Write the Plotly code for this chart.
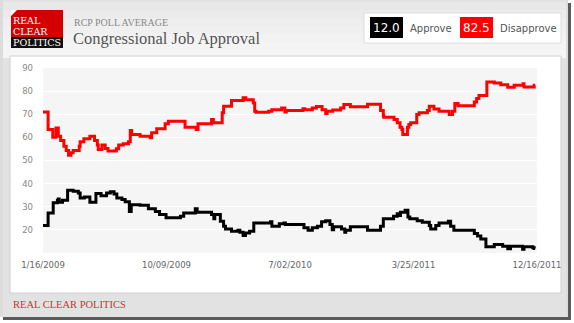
import plotly.graph_objects as go

# RCP average, Congressional job approval (poll date, percent)
disapprove_dates = [
    "2009-01-16", "2009-01-27", "2009-02-06", "2009-02-13", "2009-02-18", "2009-02-23",
    "2009-03-02", "2009-03-07", "2009-03-12", "2009-03-17", "2009-03-22", "2009-04-04",
    "2009-04-06", "2009-04-14", "2009-04-27", "2009-05-07", "2009-05-13", "2009-05-15",
    "2009-05-23", "2009-05-30", "2009-06-05", "2009-06-23", "2009-06-28", "2009-07-08",
    "2009-07-19", "2009-07-23", "2009-07-26", "2009-08-13", "2009-09-04", "2009-09-07",
    "2009-09-18", "2009-10-06", "2009-10-13", "2009-11-18", "2009-12-12", "2009-12-16",
    "2010-01-14", "2010-01-18", "2010-02-06", "2010-02-09", "2010-02-26", "2010-03-23",
    "2010-03-29", "2010-04-14", "2010-04-17", "2010-04-20", "2010-05-17", "2010-05-24",
    "2010-06-14", "2010-06-21", "2010-06-24", "2010-07-30", "2010-08-03", "2010-08-19",
    "2010-08-28", "2010-09-09", "2010-09-17", "2010-09-20", "2010-10-02", "2010-10-19",
    "2010-10-26", "2010-11-09", "2010-12-16", "2011-01-13", "2011-01-19", "2011-01-20",
    "2011-02-11", "2011-02-18", "2011-02-24", "2011-02-28", "2011-03-02", "2011-03-12",
    "2011-03-15", "2011-03-19", "2011-04-01", "2011-04-06", "2011-04-24", "2011-04-28",
    "2011-05-08", "2011-05-19", "2011-06-10", "2011-06-17", "2011-06-22", "2011-06-29",
    "2011-08-03", "2011-08-08", "2011-08-13", "2011-08-30", "2011-09-15", "2011-09-29",
    "2011-10-14", "2011-10-28", "2011-11-16", "2011-11-18", "2011-12-10", "2011-12-12",
]
disapprove = [
    71.0, 63.4, 60.1, 64.1, 60.5, 58.6,
    56.2, 54.3, 52.3, 53.3, 54.3, 56.2,
    58.1, 59.4, 60.5, 58.6, 56.7, 54.8,
    56.7, 55.2, 54.1, 55.1, 56.7, 57.2,
    58.1, 63.0, 61.2, 60.5, 59.8, 62.0,
    63.7, 65.9, 67.0, 64.4, 63.4, 65.9,
    67.7, 66.3, 70.6, 73.5, 75.9, 77.1,
    76.3, 74.9, 71.3, 70.9, 71.3, 72.0,
    72.7, 71.0, 71.6, 72.4, 72.0, 72.7,
    73.3, 72.0, 70.3, 71.3, 71.8, 72.7,
    74.2, 73.2, 74.3, 71.6, 69.2, 68.7,
    67.7, 66.3, 64.4, 63.4, 61.2, 64.4,
    65.6, 66.3, 69.9, 70.6, 71.6, 73.5,
    72.3, 71.3, 69.9, 71.3, 74.6, 73.7,
    75.3, 76.8, 78.1, 84.0, 83.5, 82.8,
    81.7, 82.5, 83.2, 81.8, 82.5, 82.5,
]

approve_dates = [
    "2009-01-16", "2009-01-27", "2009-02-07", "2009-02-16", "2009-02-18", "2009-02-20",
    "2009-02-27", "2009-03-10", "2009-03-22", "2009-04-02", "2009-04-06", "2009-04-15",
    "2009-04-27", "2009-05-10", "2009-05-21", "2009-06-02", "2009-06-10", "2009-06-18",
    "2009-06-24", "2009-07-05", "2009-07-12", "2009-07-21", "2009-07-25", "2009-08-13",
    "2009-08-31", "2009-09-15", "2009-09-24", "2009-10-08", "2009-11-08", "2009-11-15",
    "2009-12-10", "2009-12-14", "2010-01-14", "2010-01-19", "2010-01-21", "2010-02-02",
    "2010-02-09", "2010-02-13", "2010-02-26", "2010-03-12", "2010-03-16", "2010-03-23",
    "2010-03-28", "2010-04-06", "2010-04-15", "2010-05-21", "2010-05-24", "2010-06-09",
    "2010-06-19", "2010-06-22", "2010-08-01", "2010-08-10", "2010-08-19", "2010-08-30",
    "2010-09-08", "2010-09-17", "2010-09-26", "2010-10-01", "2010-10-04", "2010-10-21",
    "2010-10-28", "2010-10-30", "2010-11-09", "2010-12-16", "2011-01-13", "2011-01-19",
    "2011-02-10", "2011-02-18", "2011-02-24", "2011-02-25", "2011-03-07", "2011-03-13",
    "2011-03-17", "2011-04-02", "2011-04-13", "2011-04-28", "2011-05-01", "2011-05-12",
    "2011-05-19", "2011-06-08", "2011-06-13", "2011-06-20", "2011-08-03", "2011-08-10",
    "2011-08-17", "2011-08-28", "2011-09-15", "2011-10-03", "2011-10-14", "2011-10-20",
    "2011-11-15", "2011-11-18", "2011-12-07", "2011-12-10", "2011-12-12",
]
approve = [
    21.9, 27.3, 31.7, 32.8, 33.4, 31.9,
    32.8, 37.1, 36.7, 36.0, 33.8, 34.2,
    31.9, 35.7, 34.8, 36.0, 36.5, 35.5,
    33.8, 33.1, 32.2, 28.0, 30.9, 30.6,
    29.1, 28.0, 26.6, 25.2, 25.9, 27.3,
    29.1, 27.6, 26.6, 24.8, 26.6, 23.7,
    21.6, 20.4, 19.4, 19.8, 19.0, 17.6,
    18.7, 19.4, 23.0, 23.5, 21.6, 22.6,
    23.0, 22.3, 20.9, 19.8, 20.9, 21.6,
    23.5, 24.0, 22.3, 20.1, 21.3, 20.4,
    19.0, 19.8, 21.3, 19.8, 21.6, 24.8,
    25.9, 27.0, 26.2, 27.6, 28.5, 25.6,
    24.8, 24.0, 23.3, 21.9, 20.4, 21.9,
    23.0, 23.7, 21.6, 19.8, 18.4, 17.3,
    16.1, 12.7, 13.7, 12.9, 11.8, 12.9,
    11.6, 12.7, 12.3, 12.0, 12.0,
]

x_tick_dates = ["2009-01-16", "2009-10-09", "2010-07-02", "2011-03-25", "2011-12-16"]
x_tick_labels = ["1/16/2009", "10/09/2009", "7/02/2010", "3/25/2011", "12/16/2011"]
y_ticks = [20, 30, 40, 50, 60, 70, 80, 90]

latest_approve = approve[-1]
latest_disapprove = disapprove[-1]

W, H = 574, 323
L, R, T, B = 43, 537, 68, 253  # plot area edges in page pixels


def px(x):
    return (x - L) / (R - L)


def py(y):
    return (B - y) / (B - T)


def rect(x0, y0, x1, y1, fill, line=None, lw=0):
    return dict(type="rect", xref="paper", yref="paper", layer="below",
                x0=px(x0), x1=px(x1), y0=py(y0), y1=py(y1),
                fillcolor=fill, line=dict(color=line or fill, width=lw))


shapes = []
# frame with drop shadow
shapes.append(rect(3, 3, 571, 320, "#5a5a5a"))
shapes.append(rect(0, 0, 568, 317, "#dcdcdc"))
shapes.append(rect(3, 0, 566, 317, "#e2e2e2"))
# header gradient
bands = ["#e8e8e8", "#ebebeb", "#eeeeee", "#f0f0f0", "#f2f2f2", "#f4f4f4", "#f5f5f5"]
for i, c in enumerate(bands):
    shapes.append(rect(3, 2 + i * 8, 566, 2 + (i + 1) * 8, c))
# content box and plotting area
shapes.append(rect(10, 56, 561, 293, "#ffffff", "#d0d0d0", 1))
shapes.append(rect(L, T, R, B, "#f5f5f5"))
# legend box with value chips
shapes.append(rect(364, 13, 561, 43, "#ffffff", "#dddddd", 1))
shapes.append(rect(370, 17, 403, 38, "#000000"))
shapes.append(rect(460, 17, 493, 38, "#ff0000"))
# logo
shapes.append(rect(11, 10, 63, 37, "#d40000"))
shapes.append(rect(11, 37, 63, 48, "#111111"))
shapes.append(dict(type="path", xref="paper", yref="paper", layer="below",
                   path=f"M {px(11)},{py(10)} L {px(17)},{py(10)} L {px(11)},{py(16)} Z",
                   fillcolor="#ffffff", line=dict(width=0)))


def label(x, y, text, size, color, family, xanchor="left"):
    return dict(x=px(x), y=py(y), xref="paper", yref="paper", text=text,
                showarrow=False, xanchor=xanchor, yanchor="middle",
                font=dict(size=size, color=color, family=family))


serif = "Liberation Serif, Times New Roman, serif"
logo_serif = "DejaVu Serif, Georgia, serif"
sans = "DejaVu Sans, Verdana, sans-serif"

annotations = [
    label(11, 20.5, "REAL", 9.5, "#ffffff", logo_serif),
    label(11, 31.2, "CLEAR", 9.5, "#ffffff", logo_serif),
    label(11, 42.8, "POLITICS", 9.5, "#ffffff", logo_serif),
    label(72, 22, "RCP POLL AVERAGE", 10, "#8a8a8a", serif),
    label(71, 38, "Congressional Job Approval", 16.5, "#555555", serif),
    label(386.5, 27.5, f"{latest_approve:.1f}", 12, "#ffffff", sans, "center"),
    label(408, 28, "Approve", 10, "#555555", sans),
    label(476.5, 27.5, f"{latest_disapprove:.1f}", 12, "#ffffff", sans, "center"),
    label(498, 28, "Disapprove", 10, "#555555", sans),
    label(11, 304, "REAL CLEAR POLITICS", 10.5, "#cc3333", serif),
]

fig = go.Figure()
fig.add_trace(go.Scatter(x=disapprove_dates, y=disapprove, mode="lines",
                         line=dict(color="#ff0000", width=3, shape="hv"),
                         name="Disapprove"))
fig.add_trace(go.Scatter(x=approve_dates, y=approve, mode="lines",
                         line=dict(color="#000000", width=3, shape="hv"),
                         name="Approve"))

fig.update_layout(
    width=W, height=H,
    margin=dict(l=L, r=W - R, t=T, b=H - B, pad=0),
    paper_bgcolor="#ffffff",
    plot_bgcolor="rgba(0,0,0,0)",
    showlegend=False,
    shapes=shapes,
    annotations=annotations,
    xaxis=dict(type="date", range=["2009-01-16", "2011-12-16"],
               tickvals=x_tick_dates, ticktext=x_tick_labels,
               showgrid=False, zeroline=False, showline=False,
               ticks="", ticklabelstandoff=5,
               tickfont=dict(size=8.5, color="#666666", family=sans)),
    yaxis=dict(range=[10, 90], tickvals=y_ticks,
               showgrid=True, gridcolor="#ffffff", gridwidth=1,
               zeroline=False, showline=False, ticks="", ticklabelstandoff=9,
               tickfont=dict(size=8.5, color="#888888", family=sans)),
)

fig.write_html("out.html")
